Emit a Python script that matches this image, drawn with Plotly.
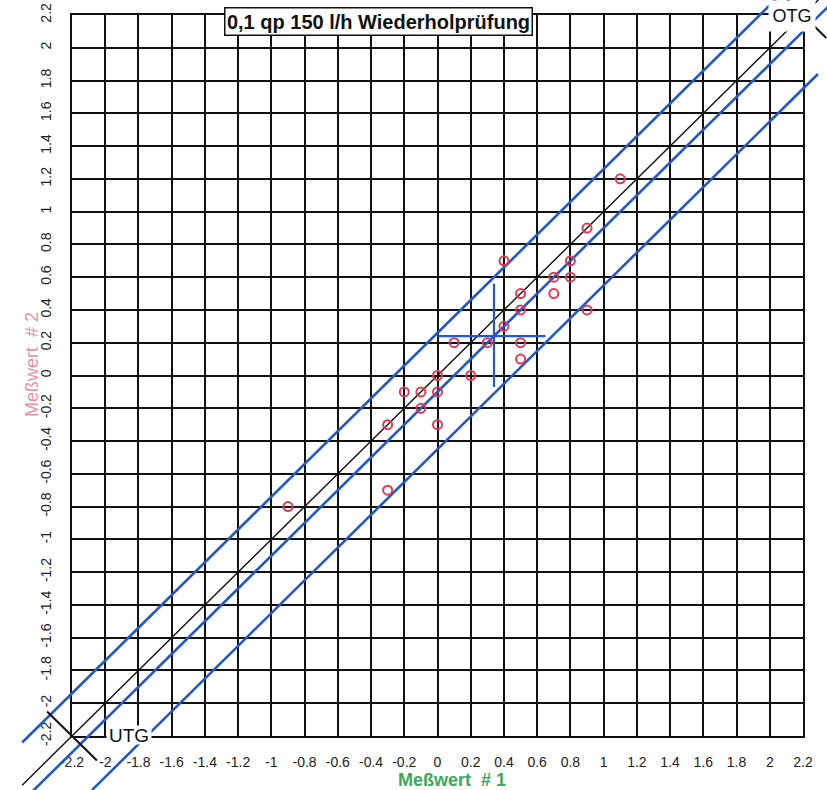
import plotly.graph_objects as go

# ---------------- data ----------------
# measured pairs: Meßwert #1 (x) vs Meßwert #2 (y)
meas1 = [1.1, 0.9, 0.4, 0.8, 0.7, 0.8, 0.5, 0.7, 0.5, 0.9, 0.4, 0.1, 0.3, 0.5, 0.5,
         0.0, 0.2, -0.2, -0.1, 0.0, -0.1, -0.3, 0.0, -0.3, -0.9]
meas2 = [1.2, 0.9, 0.7, 0.7, 0.6, 0.6, 0.5, 0.5, 0.4, 0.4, 0.3, 0.2, 0.2, 0.2, 0.1,
         0.0, 0.0, -0.1, -0.1, -0.1, -0.2, -0.3, -0.3, -0.7, -0.8]

# 1:1 reference line (black)
ident_x = [-2.5, 2.3]
ident_y = [-2.5, 2.3]
# regression / tolerance lines (blue)
upper_x = [-2.5, 2.1]
upper_y = [-2.24, 2.36]
center_x = [-2.45, 2.4]
center_y = [-2.55, 2.3]
lower_x = [-2.08, 2.29]
lower_y = [-2.53, 1.84]
# mean-point cross
cross_h_x = [0.0, 0.65]
cross_h_y = [0.24, 0.24]
cross_v_x = [0.34, 0.34]
cross_v_y = [-0.07, 0.56]
# perpendicular markers at UTG / OTG corners
utg_x = [-2.35, -2.05]
utg_y = [-2.05, -2.35]
otg_x = [2.05, 2.34]
otg_y = [2.35, 2.06]

tick_vals = [-2.2, -2.0, -1.8, -1.6, -1.4, -1.2, -1.0, -0.8, -0.6, -0.4, -0.2, 0.0,
             0.2, 0.4, 0.6, 0.8, 1.0, 1.2, 1.4, 1.6, 1.8, 2.0, 2.2]
tick_text = ["-2.2", "-2", "-1.8", "-1.6", "-1.4", "-1.2", "-1", "-0.8", "-0.6", "-0.4",
             "-0.2", "0", "0.2", "0.4", "0.6", "0.8", "1", "1.2", "1.4", "1.6", "1.8",
             "2", "2.2"]

title_text = "0,1 qp 150 l/h Wiederholprüfung"
x_title = "Meßwert\u00a0 # 1"
y_title = "Meßwert\u00a0 # 2"

# ---------------- layout geometry ----------------
W, H = 827, 790
GL, GR, GT, GB = 72, 803, 15, 736   # grid box in pixels
dx0, dx1 = GL / W, GR / W
dy0, dy1 = 1 - GB / H, 1 - GT / H
LO, HI = -2.2, 2.2
sx = (HI - LO) / (dx1 - dx0)
sy = (HI - LO) / (dy1 - dy0)
x2range = [LO - dx0 * sx, HI + (1 - dx1) * sx]
y2range = [LO - dy0 * sy, HI + (1 - dy1) * sy]

def fx(p):
    return p / W

def fy(p):
    return 1 - p / H

FONT = "Arial, Liberation Sans, sans-serif"
BLUE = "#2457c8"
RED = "#e03a52"

fig = go.Figure()

# empty trace that registers the grid subplot (x / y)
fig.add_trace(go.Scatter(x=[], y=[], xaxis="x", yaxis="y", mode="markers",
                         showlegend=False, hoverinfo="skip"))

def line(x, y, color, width):
    fig.add_trace(go.Scatter(x=x, y=y, mode="lines", xaxis="x2", yaxis="y2",
                             line=dict(color=color, width=width),
                             hoverinfo="skip", showlegend=False))

line(ident_x, ident_y, "#111111", 1.4)
line(upper_x, upper_y, BLUE, 2.6)
line(center_x, center_y, BLUE, 2.6)
line(lower_x, lower_y, BLUE, 2.6)
line(cross_h_x, cross_h_y, BLUE, 2.2)
line(cross_v_x, cross_v_y, BLUE, 2.2)
line(utg_x, utg_y, "#111111", 2)
line(otg_x, otg_y, "#111111", 2)

fig.add_trace(go.Scatter(x=meas1, y=meas2, mode="markers", xaxis="x2", yaxis="y2",
                         marker=dict(symbol="circle-open", size=9, color=RED,
                                     line=dict(width=2, color=RED)),
                         showlegend=False))

axis_common = dict(range=[LO, HI], tickmode="array", tickvals=tick_vals, ticktext=tick_text,
                   showgrid=True, gridcolor="#111111", gridwidth=1.8,
                   showline=True, linecolor="#111111", linewidth=1.8, mirror=True,
                   zeroline=False, ticks="", fixedrange=True, automargin=False,
                   tickfont=dict(family=FONT, size=14, color="#222222"))

fig.update_layout(
    width=W, height=H,
    margin=dict(l=0, r=0, t=0, b=0, pad=0, autoexpand=False),
    paper_bgcolor="white", plot_bgcolor="rgba(0,0,0,0)",
    showlegend=False,
    xaxis=dict(domain=[dx0, dx1], anchor="y", ticklabelstandoff=12, **axis_common),
    yaxis=dict(domain=[dy0, dy1], anchor="x", tickangle=-90, ticklabelstandoff=14,
               **axis_common),
    xaxis2=dict(domain=[0, 1], range=x2range, anchor="y2", visible=False,
                fixedrange=True, automargin=False),
    yaxis2=dict(domain=[0, 1], range=y2range, anchor="x2", visible=False,
                fixedrange=True, automargin=False),
    annotations=[
        dict(text="<b>" + title_text + "</b>", xref="paper", yref="paper",
             x=fx(378), y=fy(21), xanchor="center", yanchor="middle", showarrow=False,
             font=dict(family=FONT, size=20, color="#111111"),
             bgcolor="white", bordercolor="#111111", borderwidth=1.5,
             width=306, height=26, borderpad=0),
        dict(text="OTG", xref="paper", yref="paper", x=fx(792), y=fy(16),
             xanchor="center", yanchor="middle", showarrow=False,
             font=dict(family=FONT, size=18, color="#111111"),
             bgcolor="white", width=46, height=30, borderpad=0),
        dict(text="UTG", xref="paper", yref="paper", x=fx(129), y=fy(735),
             xanchor="center", yanchor="middle", showarrow=False,
             font=dict(family=FONT, size=19, color="#111111"),
             bgcolor="white", width=44, height=18, borderpad=0),
        dict(text="<b>" + x_title + "</b>", xref="paper", yref="paper",
             x=fx(452), y=fy(780), xanchor="center", yanchor="middle", height=18,
             showarrow=False, font=dict(family=FONT, size=18, color="#3caa58")),
        dict(text=y_title, xref="paper", yref="paper", x=fx(32), y=fy(365),
             xanchor="center", yanchor="middle", textangle=-90, showarrow=False,
             font=dict(family=FONT, size=18, color="#e890a8")),
    ],
)

fig.write_html("out.html",
               config={"displayModeBar": False},
               post_script="document.body.style.margin='0';"
                           "document.documentElement.style.overflow='hidden';")
